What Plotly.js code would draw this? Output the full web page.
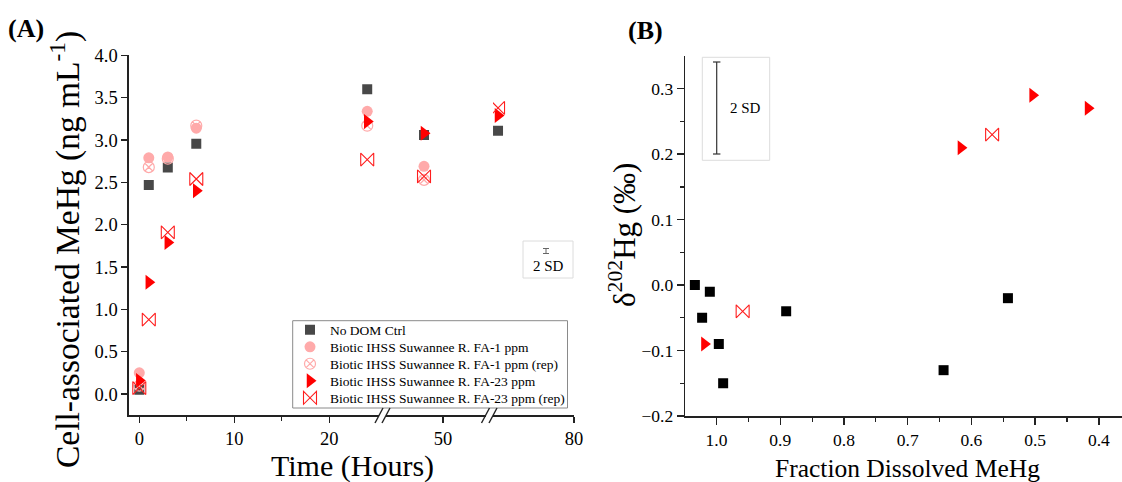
<!DOCTYPE html>
<html>
<head>
<meta charset="utf-8">
<script src="https://cdn.plot.ly/plotly-3.0.1.min.js"></script>
<style>html,body{margin:0;padding:0;background:#fff;}#chart{width:1122px;height:482px;}</style>
</head>
<body>
<div id="chart"></div>
<script>
// ---------- Panel A data ----------
const hours   = [0, 1, 3, 6, 24, 48, 72];
const noDom   = [0.05, 2.47, 2.675, 2.955, 3.60, 3.06, 3.11];
const fa1     = [0.25, 2.79, 2.80, 3.14, 3.34, 2.69, null];
const fa1rep  = [0.10, 2.68, 2.78, 3.17, 3.17, 2.53, null];
const fa23    = [0.16, 1.32, 1.79, 2.40, 3.22, 3.08, 3.29];
const fa23rep = [0.07, 0.88, 1.91, 2.54, 2.77, 2.57, 3.38];
const seriesNames = ["No DOM Ctrl", "Biotic IHSS Suwannee R. FA-1 ppm", "Biotic IHSS Suwannee R. FA-1 ppm (rep)",
                     "Biotic IHSS Suwannee R. FA-23 ppm", "Biotic IHSS Suwannee R. FA-23 ppm (rep)"];

// ---------- Panel B data ----------
const fracNoDom   = [1.034, 1.0105, 1.0226, 0.9964, 0.9896, 0.8907, 0.6437, 0.5427];
const d202NoDom   = [0.00, -0.01, -0.05, -0.09, -0.15, -0.04, -0.13, -0.02];
const fracFA23    = [1.019, 0.6165, 0.504, 0.417];
const d202FA23    = [-0.09, 0.21, 0.29, 0.27];
const fracFA23rep = [0.959, 0.5675];
const d202FA23rep = [-0.04, 0.23];

// ---------- layout helpers ----------
const W = 1122, H = 482;
const px = x => x / W;
const py = y => 1 - y / H;
const FONT = "Liberation Serif, 'Times New Roman', Times, serif";

const segs = [
  {ax: 'x',  name: 'xaxis',  dom: [129, 379],   range: [-1.084, 25.24], ticks: [0, 10, 20], minor: [5, 15]},
  {ax: 'x2', name: 'xaxis2', dom: [386, 485.5], range: [44.0, 54.47],   ticks: [50], minor: []},
  {ax: 'x3', name: 'xaxis3', dom: [493, 574],   range: [71.47, 80.001], ticks: [80], minor: []}
];

const styles = [
  {symbol: 'square', size: 10, color: 'rgb(72,72,72)', line: {width: 0}},
  {symbol: 'circle', size: 11, color: 'rgb(255,170,170)', line: {width: 0}},
  {symbol: 'circle-x-open', size: 11, color: 'rgb(255,170,170)', line: {width: 1.2, color: 'rgb(255,170,170)'}},
  {symbol: 'triangle-right', size: 13, color: 'rgb(255,0,0)', line: {width: 0}},
  {symbol: 'bowtie-open', size: 13, color: 'rgb(255,30,30)', line: {width: 1.1, color: 'rgb(255,30,30)'}}
];
const seriesVals = [noDom, fa1, fa1rep, fa23, fa23rep];
const legendIds = ['legend', 'legend2', 'legend3', 'legend4', 'legend5'];

const traces = [];
seriesVals.forEach((vals, i) => {
  segs.forEach((s, k) => {
    const xs = [], ys = [];
    hours.forEach((h, j) => {
      if (h >= s.range[0] && h <= s.range[1] && vals[j] !== null) { xs.push(h); ys.push(vals[j]); }
    });
    traces.push({
      type: 'scatter', mode: 'markers', x: xs, y: ys, xaxis: s.ax, yaxis: 'y',
      name: seriesNames[i], legendgroup: 'g' + i, showlegend: k === 0, legend: legendIds[i],
      marker: {symbol: styles[i].symbol, size: styles[i].size, color: styles[i].color, line: styles[i].line},
      hoverinfo: 'x+y'
    });
  });
});

// Panel B traces
traces.push({type: 'scatter', mode: 'markers', x: fracNoDom, y: d202NoDom, xaxis: 'x4', yaxis: 'y2', showlegend: false,
  marker: {symbol: 'square', size: 10, color: '#000'}});
traces.push({type: 'scatter', mode: 'markers', x: fracFA23, y: d202FA23, xaxis: 'x4', yaxis: 'y2', showlegend: false,
  marker: {symbol: 'triangle-right', size: 13, color: 'rgb(255,0,0)'}});
traces.push({type: 'scatter', mode: 'markers', x: fracFA23rep, y: d202FA23rep, xaxis: 'x4', yaxis: 'y2', showlegend: false,
  marker: {symbol: 'bowtie-open', size: 13, color: 'rgb(255,30,30)', line: {width: 1.1, color: 'rgb(255,30,30)'}}});

const tickFontA = {family: FONT, size: 18.5, color: '#000'};
const tickFontB = {family: FONT, size: 17.5, color: '#000'};
const layout = {
  width: W, height: H,
  margin: {l: 0, r: 0, t: 0, b: 0},
  paper_bgcolor: '#fff', plot_bgcolor: 'rgba(0,0,0,0)',
  font: {family: FONT, color: '#000'},
  showlegend: true,
  yaxis: {domain: [py(415.2), py(55.4)], range: [-0.25, 4.0], anchor: 'x', showgrid: false, zeroline: false,
          showline: true, linecolor: '#222', linewidth: 1.6, ticks: 'outside', ticklen: 6, tickwidth: 1.4, tickcolor: '#222',
          tickvals: [0, 0.5, 1, 1.5, 2, 2.5, 3, 3.5, 4], tickformat: '.1f', tickfont: tickFontA},
  xaxis4: {domain: [px(685.3), 1], range: [1.049, 0.3637], anchor: 'y2', showgrid: false, zeroline: false,
           showline: true, linecolor: '#222', linewidth: 1.6, ticks: 'outside', ticklen: 7, tickwidth: 1.4, tickcolor: '#222',
           tickvals: [1.0, 0.9, 0.8, 0.7, 0.6, 0.5, 0.4], tickformat: '.1f', tickfont: tickFontB,
           minor: {tickvals: [1.05, 0.95, 0.85, 0.75, 0.65, 0.55, 0.45, 0.35], ticklen: 4, tickwidth: 1.2, tickcolor: '#222', ticks: 'outside', showgrid: false}},
  yaxis2: {domain: [py(416), py(56)], range: [-0.2, 0.35], anchor: 'x4', showgrid: false, zeroline: false,
           showline: true, linecolor: '#222', linewidth: 1.6, ticks: 'outside', ticklen: 7, tickwidth: 1.4, tickcolor: '#222',
           tickvals: [-0.2, -0.1, 0, 0.1, 0.2, 0.3], tickformat: '.1f', tickfont: tickFontB,
           minor: {tickvals: [-0.15, -0.05, 0.05, 0.15, 0.25], ticklen: 4, tickwidth: 1.2, tickcolor: '#222', ticks: 'outside', showgrid: false}},
  shapes: [], annotations: []
};

// one single-item legend per series, stacked like the original legend box
const legendRowY = [330, 347, 364, 381, 398];
legendIds.forEach((id, i) => {
  layout[id] = {x: px(290), y: py(legendRowY[i]), xanchor: 'left', yanchor: 'middle', bgcolor: 'rgba(0,0,0,0)',
                borderwidth: 0, font: {family: FONT, size: 13.5, color: '#000'}, itemclick: false, itemdoubleclick: false};
});
layout.shapes.push({type: 'rect', xref: 'paper', yref: 'paper', x0: px(292.7), y0: py(408), x1: px(567.5), y1: py(320.7),
  line: {color: '#8a8a8a', width: 1}, fillcolor: '#fff', layer: 'below'});

segs.forEach(s => {
  layout[s.name] = {domain: [px(s.dom[0]), px(s.dom[1])], range: s.range, anchor: 'y', showgrid: false, zeroline: false,
    showline: true, linecolor: '#222', linewidth: 1.6, ticks: 'outside', ticklen: 6, tickwidth: 1.4, tickcolor: '#222',
    tickmode: 'array', tickvals: s.ticks, tickfont: tickFontA,
    minor: s.minor.length ? {tickmode: 'array', tickvals: s.minor, ticklen: 4, tickwidth: 1.2, tickcolor: '#222', ticks: 'outside', showgrid: false} : undefined};
});

// axis break marks
[[379, 386], [485.5, 493]].forEach(b => {
  [b[0], b[1]].forEach(c => {
    layout.shapes.push({type: 'line', xref: 'paper', yref: 'paper',
      x0: px(c - 4), y0: py(423), x1: px(c + 4), y1: py(408), line: {color: '#222', width: 1.4}});
  });
});

// 2 SD box panel A
layout.shapes.push({type: 'rect', xref: 'paper', yref: 'paper', x0: px(523), y0: py(278), x1: px(573), y1: py(241),
  line: {color: '#dcdcdc', width: 1}, fillcolor: '#fff', layer: 'below'});
layout.shapes.push({type: 'line', xref: 'paper', yref: 'paper', x0: px(546), y0: py(248.5), x1: px(546), y1: py(253.5), line: {color: '#666', width: 1}});
layout.shapes.push({type: 'line', xref: 'paper', yref: 'paper', x0: px(543), y0: py(248.5), x1: px(549), y1: py(248.5), line: {color: '#666', width: 1}});
layout.shapes.push({type: 'line', xref: 'paper', yref: 'paper', x0: px(543), y0: py(253.5), x1: px(549), y1: py(253.5), line: {color: '#666', width: 1}});

// 2 SD box panel B
layout.shapes.push({type: 'rect', xref: 'paper', yref: 'paper', x0: px(702.3), y0: py(160.3), x1: px(769.7), y1: py(57.3),
  line: {color: '#dcdcdc', width: 1}, fillcolor: '#fff', layer: 'below'});
layout.shapes.push({type: 'line', xref: 'paper', yref: 'paper', x0: px(716.7), y0: py(62), x1: px(716.7), y1: py(154), line: {color: '#333', width: 1.2}});
layout.shapes.push({type: 'line', xref: 'paper', yref: 'paper', x0: px(713), y0: py(62), x1: px(720.4), y1: py(62), line: {color: '#333', width: 1.2}});
layout.shapes.push({type: 'line', xref: 'paper', yref: 'paper', x0: px(713), y0: py(154), x1: px(720.4), y1: py(154), line: {color: '#333', width: 1.2}});

const ann = (text, x, y, size, extra) => Object.assign({text: text, xref: 'paper', yref: 'paper', x: px(x), y: py(y),
  showarrow: false, xanchor: 'center', yanchor: 'middle', font: {family: FONT, size: size, color: '#000'}}, extra || {});

layout.annotations.push(ann('2 SD', 548, 266, 15));
layout.annotations.push(ann('2 SD', 745, 107.7, 15));
layout.annotations.push(ann('<b>(A)</b>', 26.5, 28, 26));
layout.annotations.push(ann('<b>(B)</b>', 645.5, 30, 26));
layout.annotations.push(ann('Time (Hours)', 352, 466, 30));
layout.annotations.push(ann('Cell-associated MeHg (ng mL<sup>-1</sup>)', 65, 250, 33.5, {textangle: -90}));
layout.annotations.push(ann('δ<sup>202</sup>Hg (‰)', 622, 235, 31, {textangle: -90}));
layout.annotations.push(ann('Fraction Dissolved MeHg', 907, 468.5, 25.5));

Plotly.newPlot('chart', traces, layout, {displayModeBar: false, staticPlot: true});
</script>
</body>
</html>
